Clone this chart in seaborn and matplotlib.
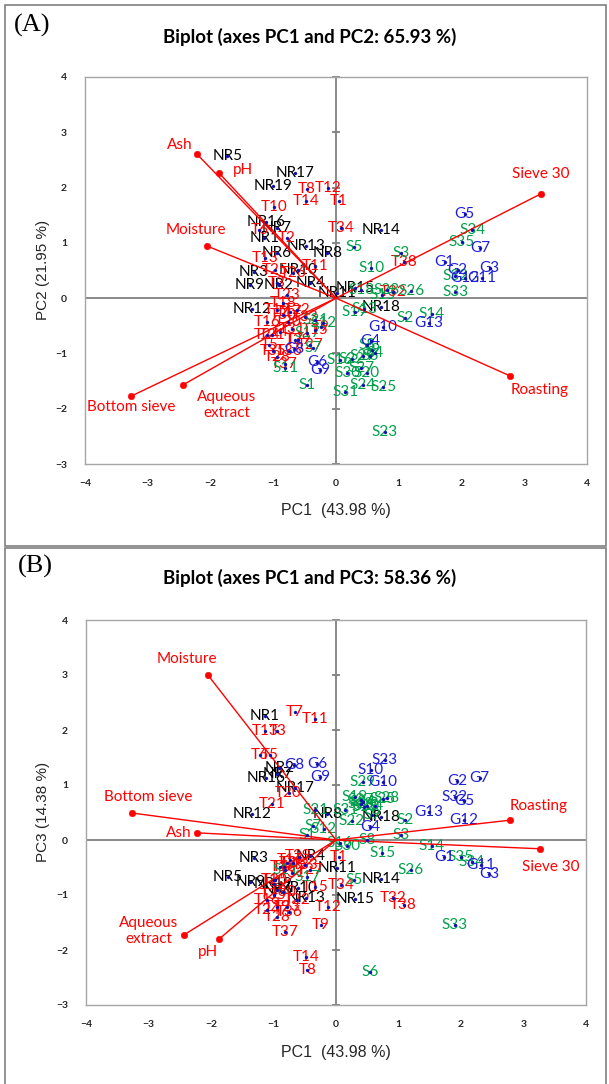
import numpy as np
import pandas as pd
import matplotlib
matplotlib.use("Agg")
import matplotlib.pyplot as plt
from matplotlib.patches import Rectangle
import seaborn as sns

sns.set_theme(style="white")
plt.rcParams['font.family'] = ['Lato', 'DejaVu Sans']

# ---------------- data ----------------
nr_labels = ["NR1", "NR2", "NR3", "NR4", "NR5", "NR6", "NR7", "NR8", "NR9", "NR10",
             "NR11", "NR12", "NR13", "NR14", "NR15", "NR16", "NR17", "NR18", "NR19"]
nr_pc1 = [-1.14, -0.91, -1.31, -0.41, -1.73, -0.94, -0.94, -0.14, -1.37, -0.61,
          0.02, -1.34, -0.48, 0.72, 0.30, -1.12, -0.66, 0.72, -1.00]
nr_pc2 = [1.08, 0.23, 0.47, 0.27, 2.58, 0.81, 1.26, 0.81, 0.23, 0.50,
          0.09, -0.20, 0.94, 1.23, 0.18, 1.37, 2.27, -0.16, 2.02]
nr_pc3 = [2.25, 1.31, -0.33, -0.29, -0.67, -0.91, 1.20, 0.47, -0.76, -0.87,
          -0.51, 0.47, -1.05, -0.71, -1.07, 1.13, 0.95, 0.42, -0.80]

t_labels = ["T1", "T2", "T3", "T4", "T5", "T6", "T7", "T8", "T9", "T10",
            "T11", "T12", "T13", "T14", "T15", "T16", "T17", "T18", "T19", "T20",
            "T21", "T22", "T23", "T24", "T25", "T26", "T27", "T28", "T29", "T30",
            "T31", "T32", "T33", "T34", "T35", "T36", "T37", "T38"]
t_pc1 = [0.05, -0.78, -0.94, -0.89, -1.06, -1.22, -0.66, -0.46, -0.24, -0.99,
         -0.33, -0.13, -1.13, -0.48, -0.33, -1.10, -0.74, -0.84, -0.94, -0.76,
         -1.02, -0.62, -0.78, -1.10, -0.97, -0.69, -0.41, -0.94, -0.60, -0.85,
         -0.70, 0.91, -0.50, 0.08, -1.00, -0.75, -0.82, 1.08]
t_pc2 = [1.75, 1.08, 0.27, -0.61, -0.85, 1.23, -0.76, 1.98, -0.52, 1.64,
         0.59, 2.00, 0.72, 1.75, -0.58, -0.43, -0.25, -0.09, -0.22, -0.43,
         -0.67, -0.22, 0.05, -0.67, 0.50, 0.45, -0.85, -1.06, -0.76, -0.30,
         -0.55, 0.12, -0.35, 1.26, -0.95, -0.95, -1.20, 0.65]
t_pc3 = [-0.31, -0.42, 1.98, -0.49, 1.55, 1.55, 2.33, -2.36, -1.55, -0.73,
         2.20, -1.22, 1.98, -2.13, -0.85, -1.09, -0.36, -0.49, -1.22, 0.85,
         0.65, -1.09, -1.22, -1.27, -0.73, -0.42, -0.55, -1.40, -0.30, -0.95,
         -0.60, -1.05, -0.45, -0.82, -1.00, -1.30, -1.67, -1.18]

s_labels = ["S1", "S2", "S3", "S4", "S5", "S6", "S7", "S8", "S9", "S10",
            "S11", "S12", "S13", "S14", "S15", "S16", "S17", "S18", "S19", "S20",
            "S21", "S22", "S23", "S24", "S25", "S26", "S27", "S28", "S29", "S30",
            "S31", "S32", "S33", "S34", "S35"]
s_pc1 = [-0.46, 1.10, 1.04, 0.62, 0.29, 0.54, -0.37, 0.50, 0.57, 0.56,
         -0.81, -0.20, 0.45, 1.53, 0.74, 0.06, -0.46, 0.40, 0.30, 0.49,
         -0.33, 0.25, 0.78, 0.43, 0.75, 1.20, 0.40, 0.81, 0.43, 0.18,
         0.15, 1.90, 1.90, 2.17, 2.00]
s_pc2 = [-1.57, -0.36, 0.81, -1.00, 0.92, -1.05, -0.90, -0.85, -0.94, 0.54,
         -1.26, -0.45, -0.20, -0.29, 0.05, -1.12, -0.63, 0.15, -0.25, -1.35,
         -0.40, -1.10, -2.43, -1.57, -1.60, 0.13, -1.26, 0.14, -1.05, -1.35,
         -1.69, 0.40, 0.11, 1.23, 1.01]
s_pc3 = [0.09, 0.36, 0.09, 0.62, -0.73, -2.40, 0.25, 0.00, 0.45, 1.27,
         -0.55, 0.20, 0.60, -0.11, -0.24, -0.05, -0.67, 0.65, 0.78, 0.62,
         0.55, 0.35, 1.45, 0.70, 0.75, -0.55, 0.72, 0.76, 1.05, -0.10,
         0.55, 0.78, -1.55, -0.40, -0.31]

g_labels = ["G1", "G2", "G3", "G4", "G5", "G6", "G7", "G8", "G9", "G10",
            "G11", "G12", "G13"]
g_pc1 = [1.73, 1.94, 2.45, 0.55, 2.05, -0.30, 2.30, -0.67, -0.25, 0.75,
         2.32, 2.05, 1.48]
g_pc2 = [0.65, 0.50, 0.54, -0.78, 1.53, -1.15, 0.90, -0.92, -1.30, -0.52,
         0.36, 0.36, -0.45]
g_pc3 = [-0.31, 1.07, -0.62, 0.24, 0.71, 1.38, 1.13, 1.36, 1.15, 1.05,
         -0.45, 0.36, 0.51]

# labels drawn blue in panel B
blue_in_B = ["S10", "S23", "S32"]

var_names = ["Ash", "pH", "Moisture", "Sieve 30", "Roasting", "Bottom sieve", "Aqueous\nextract"]
var_pc1 = [-2.22, -1.87, -2.05, 3.27, 2.78, -3.26, -2.44]
var_pc2 = [2.61, 2.27, 0.94, 1.89, -1.41, -1.77, -1.57]
var_pc3 = [0.13, -1.80, 3.00, -0.16, 0.36, 0.49, -1.73]

# ---------------- style ----------------
group_colors = {"NR": "#000000", "T": "#FF0000", "S": "#00A04B", "G": "#1F1FD8"}
VAR_COLOR = "#FF0000"
DOT_COLOR = "#1010B0"
LABEL_SIZE = 11

rows = []
for grp, labs, a, b, c in [("NR", nr_labels, nr_pc1, nr_pc2, nr_pc3),
                           ("T", t_labels, t_pc1, t_pc2, t_pc3),
                           ("S", s_labels, s_pc1, s_pc2, s_pc3),
                           ("G", g_labels, g_pc1, g_pc2, g_pc3)]:
    for l, x, y2, y3 in zip(labs, a, b, c):
        rows.append({"label": l, "group": grp, "PC1": x, "PC2": y2, "PC3": y3})
obs = pd.DataFrame(rows)
var = pd.DataFrame({"name": var_names, "PC1": var_pc1, "PC2": var_pc2, "PC3": var_pc3})

# label offsets for variables, in pixels (x right, y up)
off_A = [(-17, 9), (24, 3), (-11, 16), (0, 20), (29, -14), (0, -11), (44, -20)]
off_B = [(-18, 0), (-11, -13), (-21, 16), (10, -18), (29, 14), (16, 16), (-35, 4)]

W, H = 609, 1084
fig = plt.figure(figsize=(W / 100, H / 100), dpi=100)


def fr(x0, y0, x1, y1):
    return [x0 / W, 1 - y1 / H, (x1 - x0) / W, (y1 - y0) / H]


def panel(ax, ycol, offs, blue_override):
    ax.set_xlim(-4, 4)
    ax.set_ylim(-3, 4)
    ax.set_xticks(range(-4, 5))
    ax.set_yticks(range(-3, 5))
    ax.tick_params(length=0, labelsize=7.5, pad=13)
    ax.tick_params(axis='x', pad=11)
    for lab in ax.get_xticklabels() + ax.get_yticklabels():
        lab.set_fontweight('bold')
    for sp in ax.spines.values():
        sp.set_color('#A6A6A6')
        sp.set_linewidth(1.0)
    ax.axhline(0, color='#808080', lw=1.3, zorder=1)
    ax.axvline(0, color='#808080', lw=1.3, zorder=1)
    for yt in ax.get_yticks():
        ax.plot([-0.07, 0.07], [yt, yt], color='#808080', lw=1.3, zorder=1,
                solid_capstyle='butt', clip_on=False)

    # observation labels
    for _, r in obs.iterrows():
        c = group_colors[r["group"]]
        if blue_override and r["label"] in blue_in_B:
            c = group_colors["G"]
        ax.text(r["PC1"], r[ycol], r["label"], color=c, ha='center', va='center',
                fontsize=LABEL_SIZE, zorder=3)
    # variable lines
    for _, r in var.iterrows():
        ax.plot([0, r["PC1"]], [0, r[ycol]], color=VAR_COLOR, lw=1.0, zorder=4)
    sns.scatterplot(data=var, x="PC1", y=ycol, ax=ax, color=VAR_COLOR, s=22,
                    edgecolor=None, legend=False, zorder=5)
    for (_, r), (dx, dy) in zip(var.iterrows(), offs):
        ax.annotate(r["name"], (r["PC1"], r[ycol]), xytext=(dx, dy),
                    textcoords='offset pixels', ha='center', va='center',
                    color=VAR_COLOR, fontsize=LABEL_SIZE, linespacing=1.2, zorder=5)
    sns.scatterplot(data=obs, x="PC1", y=ycol, ax=ax, color=DOT_COLOR, s=5,
                    edgecolor=None, legend=False, zorder=6)
    ax.set_xlabel("")
    ax.set_ylabel("")


axA = fig.add_axes(fr(85, 77, 587, 464))
panel(axA, "PC2", off_A, False)
axB = fig.add_axes(fr(86, 620, 586, 1005))
panel(axB, "PC3", off_B, True)

# panel frames
fig.add_artist(Rectangle((5 / W, 1 - 546 / H), 601 / W, 541 / H, transform=fig.transFigure,
                         fill=False, ec='#808080', lw=1.2))
fig.add_artist(Rectangle((5 / W, 1 - 1095 / H), 601 / W, 547 / H, transform=fig.transFigure,
                         fill=False, ec='#808080', lw=1.2, clip_on=False))


def ftext(px, py, s, **kw):
    fig.text(px / W, 1 - py / H, s, **kw)


serif = ['Liberation Serif', 'DejaVu Serif']
sans = ['Liberation Sans', 'DejaVu Sans']
ftext(32, 25, "(A)", fontsize=19, family=serif, ha='center', va='center', color='black')
ftext(35, 566, "(B)", fontsize=19, family=serif, ha='center', va='center', color='black')
ftext(310, 37, "Biplot (axes PC1 and PC2: 65.93 %)", fontsize=13.5, fontweight='bold',
      ha='center', va='center', color='black')
ftext(310, 578, "Biplot (axes PC1 and PC3: 58.36 %)", fontsize=13.5, fontweight='bold',
      ha='center', va='center', color='black')
ftext(336, 511, "PC1  (43.98 %)", fontsize=11.5, family=sans, ha='center', va='center')
ftext(336, 1052, "PC1  (43.98 %)", fontsize=11.5, family=sans, ha='center', va='center')
ftext(43, 270, "PC2 (21.95 %)", fontsize=11, family=sans, ha='center', va='center',
      rotation=90)
ftext(43, 812, "PC3 (14.38 %)", fontsize=11, family=sans, ha='center', va='center',
      rotation=90)

fig.savefig("out.png", dpi=100)
